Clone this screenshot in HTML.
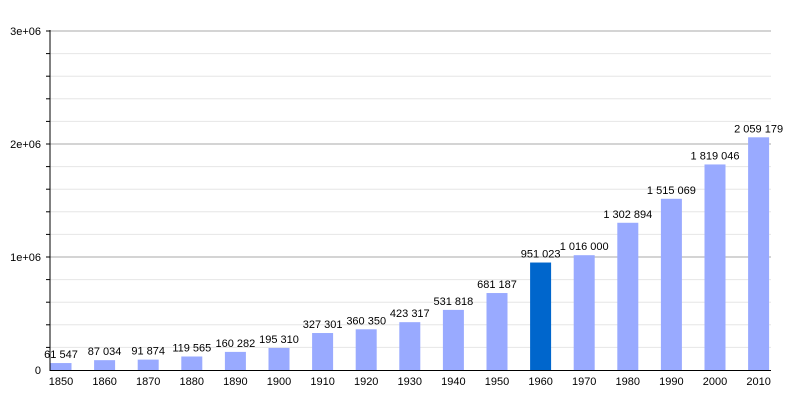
<!DOCTYPE html>
<html><head><style>body{margin:0;background:#fff}svg{display:block}text{font-family:"Liberation Sans",sans-serif;font-size:11px;fill:#000}</style></head>
<body>
<svg width="800" height="400" xmlns="http://www.w3.org/2000/svg">
<g stroke="#e6e6e6">
<line x1="50" x2="771" y1="347.4" y2="347.4"/><line x1="50" x2="771" y1="324.8" y2="324.8"/><line x1="50" x2="771" y1="302.2" y2="302.2"/><line x1="50" x2="771" y1="279.6" y2="279.6"/>
<line x1="50" x2="771" y1="234.4" y2="234.4"/><line x1="50" x2="771" y1="211.8" y2="211.8"/><line x1="50" x2="771" y1="189.2" y2="189.2"/><line x1="50" x2="771" y1="166.6" y2="166.6"/>
<line x1="50" x2="771" y1="121.4" y2="121.4"/><line x1="50" x2="771" y1="98.8" y2="98.8"/><line x1="50" x2="771" y1="76.2" y2="76.2"/><line x1="50" x2="771" y1="53.6" y2="53.6"/>
</g>
<g stroke="#aaa"><line x1="50" x2="771" y1="257" y2="257"/><line x1="50" x2="771" y1="144" y2="144"/><line x1="50" x2="771" y1="31" y2="31"/></g>
<g stroke="#000">
<line x1="46" x2="50" y1="347.4" y2="347.4"/><line x1="46" x2="50" y1="324.8" y2="324.8"/><line x1="46" x2="50" y1="302.2" y2="302.2"/><line x1="46" x2="50" y1="279.6" y2="279.6"/><line x1="46" x2="50" y1="257" y2="257"/>
<line x1="46" x2="50" y1="234.4" y2="234.4"/><line x1="46" x2="50" y1="211.8" y2="211.8"/><line x1="46" x2="50" y1="189.2" y2="189.2"/><line x1="46" x2="50" y1="166.6" y2="166.6"/><line x1="46" x2="50" y1="144" y2="144"/>
<line x1="46" x2="50" y1="121.4" y2="121.4"/><line x1="46" x2="50" y1="98.8" y2="98.8"/><line x1="46" x2="50" y1="76.2" y2="76.2"/><line x1="46" x2="50" y1="53.6" y2="53.6"/><line x1="46" x2="50" y1="31" y2="31"/>
</g>
<g fill="#99aaff">
<rect x="50.5" y="363.05" width="21" height="6.95"/>
<rect x="94.1" y="360.17" width="21" height="9.83"/>
<rect x="137.7" y="359.62" width="21" height="10.38"/>
<rect x="181.3" y="356.49" width="21" height="13.51"/>
<rect x="224.9" y="351.89" width="21" height="18.11"/>
<rect x="268.5" y="347.93" width="21" height="22.07"/>
<rect x="312.1" y="333.02" width="21" height="36.98"/>
<rect x="355.7" y="329.28" width="21" height="40.72"/>
<rect x="399.3" y="322.17" width="21" height="47.83"/>
<rect x="442.9" y="309.9" width="21" height="60.1"/>
<rect x="486.5" y="293.03" width="21" height="76.97"/>
<rect x="530.1" y="262.53" width="21" height="107.47" fill="#0066cc"/>
<rect x="573.7" y="255.19" width="21" height="114.81"/>
<rect x="617.3" y="222.77" width="21" height="147.23"/>
<rect x="660.9" y="198.8" width="21" height="171.2"/>
<rect x="704.5" y="164.45" width="21" height="205.55"/>
<rect x="748.1" y="137.31" width="21" height="232.69"/>
</g>
<g text-anchor="middle">
<text x="61" y="358">61 547</text>
<text x="104.6" y="355">87 034</text>
<text x="148.2" y="354.6">91 874</text>
<text x="191.8" y="351.5">119 565</text>
<text x="235.4" y="346.9">160 282</text>
<text x="279" y="342.9">195 310</text>
<text x="322.6" y="328">327 301</text>
<text x="366.2" y="324.3">360 350</text>
<text x="409.8" y="317.2">423 317</text>
<text x="453.4" y="304.9">531 818</text>
<text x="497" y="288">681 187</text>
<text x="540.6" y="257.5">951 023</text>
<text x="584.2" y="250.2">1 016 000</text>
<text x="627.8" y="217.8">1 302 894</text>
<text x="671.4" y="193.8">1 515 069</text>
<text x="715" y="159.5">1 819 046</text>
<text x="758.6" y="132.3">2 059 179</text>
<text x="61" y="385">1850</text><text x="104.6" y="385">1860</text><text x="148.2" y="385">1870</text><text x="191.8" y="385">1880</text>
<text x="235.4" y="385">1890</text><text x="279" y="385">1900</text><text x="322.6" y="385">1910</text><text x="366.2" y="385">1920</text>
<text x="409.8" y="385">1930</text><text x="453.4" y="385">1940</text><text x="497" y="385">1950</text><text x="540.6" y="385">1960</text>
<text x="584.2" y="385">1970</text><text x="627.8" y="385">1980</text><text x="671.4" y="385">1990</text><text x="715" y="385">2000</text><text x="758.6" y="385">2010</text>
</g>
<line x1="50" x2="50" y1="30" y2="371" stroke="#000"/>
<line x1="50" x2="771" y1="370.5" y2="370.5" stroke="#000"/>
<g text-anchor="end">
<text x="41" y="374">0</text><text x="41" y="261">1e+06</text><text x="41" y="148">2e+06</text><text x="41" y="35">3e+06</text>
</g>
</svg>
</body></html>
